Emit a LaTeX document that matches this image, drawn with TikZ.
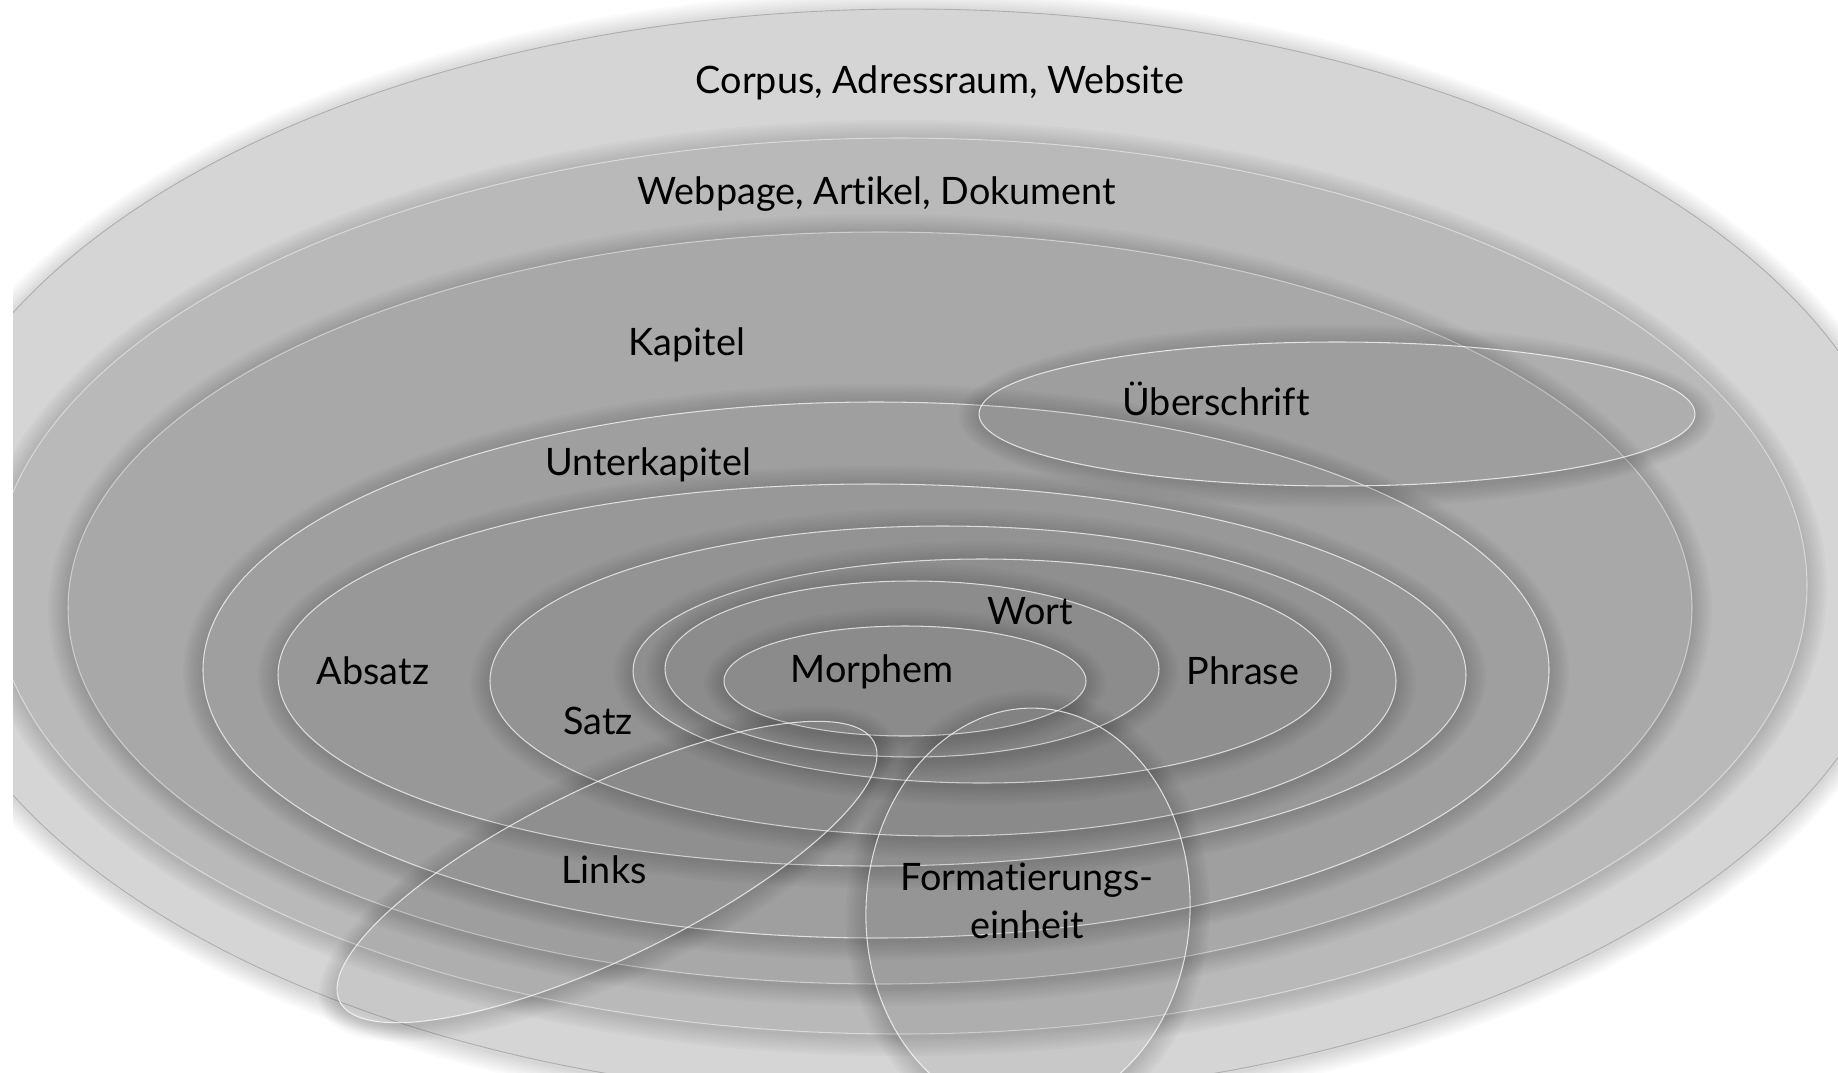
\documentclass[tikz,border=0pt]{standalone}
\usepackage{fontspec}
\setmainfont{Lato}[Ligatures={NoCommon}]

% grey tones of the nested levels, outermost first
\definecolor{lvlA}{gray}{0.835}
\definecolor{lvlB}{gray}{0.725}
\definecolor{lvlC}{gray}{0.66}
\definecolor{lvlD}{gray}{0.625}
\definecolor{lvlE}{gray}{0.595}
\definecolor{lvlF}{gray}{0.575}
\definecolor{lvlG}{gray}{0.56}
\definecolor{lvlH}{gray}{0.55}
\definecolor{lvlI}{gray}{0.545}

% soft shadow: stacked translucent rings around an ellipse
% #1 cx, #2 cy, #3 rx, #4 ry, #5 angle
\newcommand\softshadow[5]{%
  \begin{scope}[shift={(#1,#2)}, rotate=#5]
    \foreach \k in {1,...,8}{
      \fill[black, fill opacity=0.018, even odd rule]
        (0,2) ellipse [x radius=#3+\k*2.5, y radius=#4+\k*2.5]
        (0,0) ellipse [x radius=#3, y radius=#4];
    }
  \end{scope}}

% one ellipse with its shadow
% #1 cx, #2 cy, #3 rx, #4 ry, #5 angle, #6 fill and outline options
\newcommand\ringlayer[6]{%
  \softshadow{#1}{#2}{#3}{#4}{#5}
  \begin{scope}[shift={(#1,#2)}, rotate=#5]
    \path[#6] (0,0) ellipse [x radius=#3, y radius=#4];
  \end{scope}}

\begin{document}
\begin{tikzpicture}[x=0.02cm, y=-0.02cm,
  lbl/.style={font=\fontsize{21.5pt}{27.3pt}\selectfont, text=black, inner sep=0pt},
  rim/.style={draw=white, draw opacity=0.7, line width=0.6pt},
  softrim/.style={draw=white, draw opacity=0.45, line width=0.6pt},
  glass/.style={fill=black, fill opacity=0.06, draw=white, draw opacity=0.75, line width=0.6pt},
]
\useasboundingbox (0,0) rectangle (1838,1072);
\fill[white] (0,0) rectangle (1838,1072);

\begin{scope}
  \clip (13,0) rectangle (1838,1072);

  % nested levels, outermost first
  \ringlayer{910}{554}{1000}{545}{0}{fill=lvlA, draw=black!32, line width=0.5pt}
  \ringlayer{900}{586}{907}{448}{0}{fill=lvlB, softrim}
  \ringlayer{880}{608}{812}{376}{0}{fill=lvlC, softrim}
  \ringlayer{876}{670}{673}{268}{0}{fill=lvlD, rim}
  \ringlayer{872}{675}{594}{191}{0}{fill=lvlE, rim}
  \ringlayer{943}{681}{453}{155}{0}{fill=lvlF, rim}
  \ringlayer{982}{671}{349}{112}{0}{fill=lvlG, rim}
  \ringlayer{912}{669}{247}{88}{0}{fill=lvlH, rim}
  \ringlayer{905}{681}{181}{55}{0}{fill=lvlI, rim}

  % crossing units
  \ringlayer{1337}{414}{358}{72}{0}{glass}
  \ringlayer{607}{872}{297}{86}{25.8}{glass}
  \ringlayer{1028}{910}{162}{202}{-3}{glass}
\end{scope}

% labels
\node[lbl, anchor=base] (corpus)  at (940,93)   {Corpus, Adressraum, Website};
\node[lbl, anchor=base] (webpage) at (877,204)  {Webpage, Artikel, Dokument};
\node[lbl, anchor=base] (kapitel) at (687,355)  {Kapitel};
\node[lbl, anchor=base] (ueber)   at (1216,415) {Überschrift};
\node[lbl, anchor=base] (unterk)  at (648,475)  {Unterkapitel};
\node[lbl, anchor=base] (wort)    at (1030,624) {Wort};
\node[lbl, anchor=base] (absatz)  at (373,684)  {Absatz};
\node[lbl, anchor=base] (morphem) at (872,682)  {Morphem};
\node[lbl, anchor=base] (phrase)  at (1243,684) {Phrase};
\node[lbl, anchor=base] (satz)    at (598,734)  {Satz};
\node[lbl, anchor=base] (links)   at (604,883)  {Links};
\node[lbl, align=center] (format) at (1027,901) {Formatierungs-\\einheit};
\end{tikzpicture}
\end{document}
